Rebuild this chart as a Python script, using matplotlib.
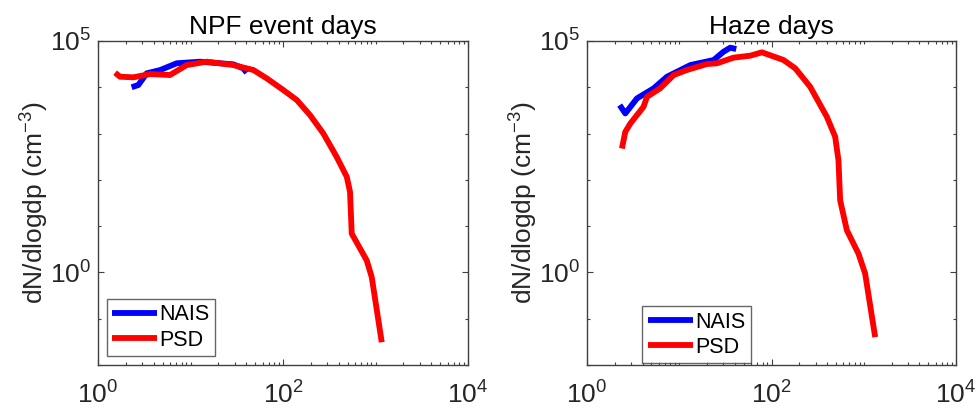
import numpy as np
import matplotlib
matplotlib.use("Agg")
import matplotlib.pyplot as plt
from matplotlib.ticker import LogLocator, NullFormatter, FixedLocator

plt.rcParams['font.family'] = ['Liberation Sans', 'DejaVu Sans']
plt.rcParams['mathtext.fontset'] = 'custom'
plt.rcParams['mathtext.rm'] = 'Liberation Sans'
plt.rcParams['mathtext.it'] = 'Liberation Sans'

titles = ["NPF event days", "Haze days"]
series_names = ["NAIS", "PSD"]

# NPF event days
npf_nais_dp = [2.31, 2.73, 3.36, 4.68, 7.1, 12.7, 29, 37.2, 40.5]
npf_nais_dn = [1.0e4, 1.12e4, 2.0e4, 2.35e4, 3.3e4, 3.57e4, 3.13e4, 2.56e4, 2.06e4]
npf_psd_dp = [1.53, 1.73, 2.41, 3.65, 6.0, 9.1, 15, 29, 47.8, 66.6, 100.8, 141, 196,
              273, 380, 489, 530, 553, 803, 910, 1167]
npf_psd_dn = [2.06e4, 1.69e4, 1.64e4, 1.93e4, 1.84e4, 3.02e4, 3.57e4, 3.02e4, 2.36e4,
              1.56e4, 8.7e3, 5.3e3, 2.5e3, 1.0e3, 313, 116, 54.7, 6.87, 1.82, 0.79, 0.031]

# Haze days
haze_nais_dp = [2.26, 2.6, 3.48, 5.27, 7.36, 13.2, 23.6, 30.2, 35.7, 41.5]
haze_nais_dn = [4.12e3, 2.72e3, 5.75e3, 9.46e3, 1.69e4, 3.02e4, 3.88e4, 5.86e4, 7.16e4, 6.71e4]
haze_psd_dp = [2.39, 2.6, 2.95, 4.1, 4.47, 6.2, 8.7, 12.1, 20, 25.6, 38.7, 58.8, 78.7,
               135, 181, 262, 398, 490, 532, 555, 656, 877, 1036, 1330]
haze_psd_dn = [475, 1090, 1650, 3790, 6220, 9460, 1.84e4, 2.36e4, 3.18e4, 3.29e4,
               4.36e4, 4.81e4, 5.69e4, 3.88e4, 2.56e4, 1.03e4, 2300, 851, 265, 36.1,
               8.13, 2.54, 0.94, 0.040]

data = [
    (npf_nais_dp, npf_nais_dn, npf_psd_dp, npf_psd_dn),
    (haze_nais_dp, haze_nais_dn, haze_psd_dp, haze_psd_dn),
]

fig = plt.figure(figsize=(9.8, 4.19), dpi=100)
axes_rects = [[0.100, 0.1289, 0.3776, 0.7733], [0.599, 0.1289, 0.3765, 0.7733]]
leg_anchor = [(0.023, 0.028), (0.150, 0.005)]
spine_col = '#404040'
text_col = '#262626'
FS = 19
LFS = 15.5

for i, (rect, title, d) in enumerate(zip(axes_rects, titles, data)):
    ax = fig.add_axes(rect)
    ax.plot(d[0], d[1], color='#0000ff', lw=4.2, label=series_names[0], solid_capstyle='butt')
    ax.plot(d[2], d[3], color='#ff0000', lw=4.2, label=series_names[1], solid_capstyle='butt')
    ax.set_xscale('log')
    ax.set_yscale('log')
    ax.set_xlim(1, 1e4)
    ax.set_ylim(1e-2, 1e5)
    ax.xaxis.set_major_locator(FixedLocator([1, 1e2, 1e4]))
    ax.xaxis.set_minor_locator(LogLocator(base=10, subs=np.arange(1, 10), numticks=20))
    ax.xaxis.set_minor_formatter(NullFormatter())
    ax.yaxis.set_major_locator(FixedLocator([1, 1e5]))
    ax.yaxis.set_minor_locator(FixedLocator([10.0 ** k for k in range(-2, 6)]))
    ax.yaxis.set_minor_formatter(NullFormatter())
    for s in ax.spines.values():
        s.set_color(spine_col)
        s.set_linewidth(1.0)
    ax.tick_params(which='both', direction='in', top=True, right=True,
                   colors=spine_col, labelcolor=text_col, labelsize=FS, width=0.8)
    ax.tick_params(which='major', length=4)
    ax.tick_params(axis='x', which='major', pad=12)
    ax.tick_params(axis='y', which='major', pad=5)
    ax.tick_params(which='minor', length=2.5)
    ax.set_title(title, fontsize=FS, color='black', pad=5)
    ax.set_ylabel('dN/dlogdp (cm$^{-3}$)', fontsize=FS, color=text_col, labelpad=-1)
    leg = ax.legend(loc='lower left', bbox_to_anchor=leg_anchor[i], fontsize=LFS,
                    frameon=True, fancybox=False, handlelength=2.1, handletextpad=0.1,
                    borderpad=0.25, labelspacing=0.2, borderaxespad=0.0)
    leg.get_frame().set_edgecolor(spine_col)
    leg.get_frame().set_linewidth(1.0)

fig.savefig('out.png', dpi=100, facecolor='white')
